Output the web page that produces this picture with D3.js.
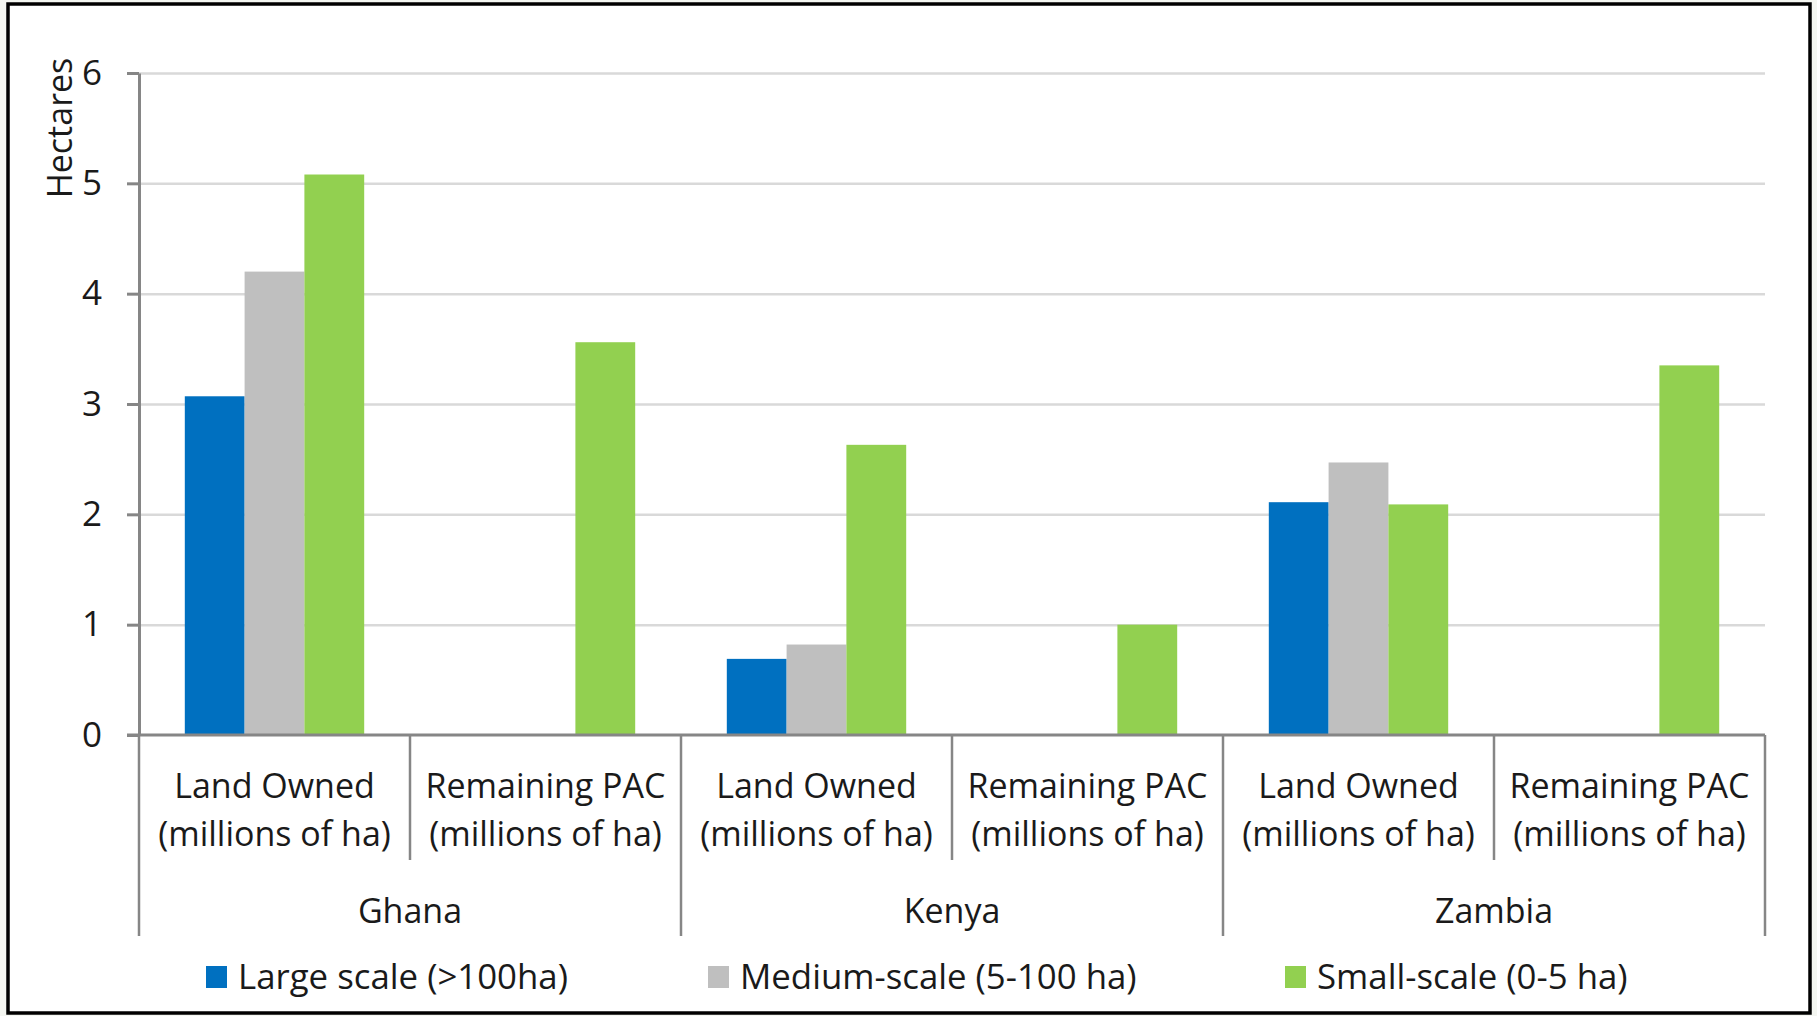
<!DOCTYPE html>
<html lang="en">
<head>
<meta charset="UTF-8">
<title>Land holdings</title>
<style>
    body { margin: 0; background: #f4f6f1; }
    svg text { font-family: "Open Sans", sans-serif; fill: #1a1a1a; }
    .grid line { stroke: #d9d9d9; stroke-width: 2.5px; }
    .grid path { display: none; }
    .yaxis path, .yaxis line { stroke: #868686; stroke-width: 3px; }
</style>
<script src="https://d3js.org/d3.v7.min.js"></script>
</head>
<body>
<svg width="1817" height="1016"></svg>
<script>
    // data
    var countries = ["Ghana", "Kenya", "Zambia"];
    var measures = ["Land Owned", "Remaining PAC"];
    var seriesNames = ["Large scale (>100ha)", "Medium-scale (5-100 ha)", "Small-scale (0-5 ha)"];
    var largeScale = [3.07, 0, 0.69, 0, 2.11, 0];
    var mediumScale = [4.20, 0, 0.82, 0, 2.47, 0];
    var smallScale = [5.08, 3.56, 2.63, 1.00, 2.09, 3.35];
    var yTicks = [0, 1, 2, 3, 4, 5, 6];

    var colors = ["#0070c0", "#bfbfbf", "#92d050"];

    var svg = d3.select("svg");

    // white chart area with black frame
    svg.append("rect")
        .attr("x", 8).attr("y", 4)
        .attr("width", 1802).attr("height", 1009)
        .attr("fill", "#fff")
        .attr("stroke", "#000")
        .attr("stroke-width", 3.5);

    var plotLeft = 139, plotRight = 1765, plotTop = 73, plotBottom = 735;

    // one slot per country x measure
    var cats = [];
    countries.forEach(function (c) {
        measures.forEach(function (m) { cats.push(c + "|" + m); });
    });
    var values = [largeScale, mediumScale, smallScale];

    var x0 = d3.scaleBand().domain(cats).range([plotLeft, plotRight]).paddingInner(0).paddingOuter(0);
    var x1 = d3.scaleBand().domain(seriesNames).range([0, x0.bandwidth()]).paddingInner(0).paddingOuter(0.766);
    var y = d3.scaleLinear().domain([0, 6]).range([plotBottom, plotTop]);

    // gridlines
    svg.append("g")
        .attr("class", "grid")
        .attr("transform", "translate(" + plotLeft + ",0)")
        .call(d3.axisLeft(y).tickValues(yTicks.slice(1)).tickSize(-(plotRight - plotLeft)).tickFormat(""));

    // bars
    var groups = svg.append("g").selectAll("g")
        .data(cats)
        .enter().append("g")
        .attr("transform", function (d) { return "translate(" + x0(d) + ",0)"; });

    groups.selectAll("rect")
        .data(function (d, i) {
            return seriesNames.map(function (s, k) { return { s: s, k: k, v: values[k][i] }; });
        })
        .enter().append("rect")
        .attr("x", function (d) { return x1(d.s); })
        .attr("width", x1.bandwidth())
        .attr("y", function (d) { return y(d.v); })
        .attr("height", function (d) { return y(0) - y(d.v); })
        .attr("fill", function (d) { return colors[d.k]; });

    // y axis
    var yAxis = svg.append("g")
        .attr("class", "yaxis")
        .attr("transform", "translate(" + plotLeft + ",0)")
        .call(d3.axisLeft(y).tickValues(yTicks).tickFormat(d3.format("d"))
            .tickSize(12).tickSizeOuter(0).tickPadding(25));
    yAxis.selectAll("text")
        .style("font-size", "35px")
        .attr("fill", "#1a1a1a");

    svg.append("text")
        .attr("transform", "translate(72,128) rotate(-90)")
        .attr("text-anchor", "middle")
        .style("font-size", "34px")
        .text("Hectares");

    // x axis line and category dividers
    var axisColor = "#868686";
    svg.append("line")
        .attr("x1", plotLeft - 12).attr("x2", plotRight)
        .attr("y1", plotBottom).attr("y2", plotBottom)
        .attr("stroke", axisColor).attr("stroke-width", 3);

    var step = x0.step();
    svg.append("g").selectAll("line")
        .data(d3.range(cats.length + 1))
        .enter().append("line")
        .attr("x1", function (i) { return plotLeft + i * step; })
        .attr("x2", function (i) { return plotLeft + i * step; })
        .attr("y1", plotBottom)
        .attr("y2", function (i) { return i % 2 === 0 ? 936 : 860; })
        .attr("stroke", axisColor).attr("stroke-width", 2.5);

    // sub-category labels
    var catLabels = svg.append("g").selectAll("text")
        .data(cats)
        .enter().append("text")
        .attr("text-anchor", "middle")
        .style("font-size", "34px")
        .attr("x", function (d) { return x0(d) + x0.bandwidth() / 2; });
    catLabels.append("tspan")
        .attr("x", function (d) { return x0(d) + x0.bandwidth() / 2; })
        .attr("y", 798)
        .text(function (d) { return d.split("|")[1]; });
    catLabels.append("tspan")
        .attr("x", function (d) { return x0(d) + x0.bandwidth() / 2; })
        .attr("y", 846)
        .text("(millions of ha)");

    // country labels
    svg.append("g").selectAll("text")
        .data(countries)
        .enter().append("text")
        .attr("text-anchor", "middle")
        .style("font-size", "34px")
        .attr("x", function (d) { return x0(d + "|" + measures[0]) + step; })
        .attr("y", 923)
        .text(function (d) { return d; });

    // legend
    var legendX = [206, 708, 1285];
    var legend = svg.append("g").selectAll("g")
        .data(seriesNames)
        .enter().append("g")
        .attr("transform", function (d, i) { return "translate(" + legendX[i] + ",966)"; });
    legend.append("rect")
        .attr("width", 21).attr("height", 22)
        .attr("fill", function (d, i) { return colors[i]; });
    legend.append("text")
        .attr("x", 32).attr("y", 23)
        .style("font-size", "34.8px")
        .text(function (d) { return d; });
</script>
</body>
</html>
